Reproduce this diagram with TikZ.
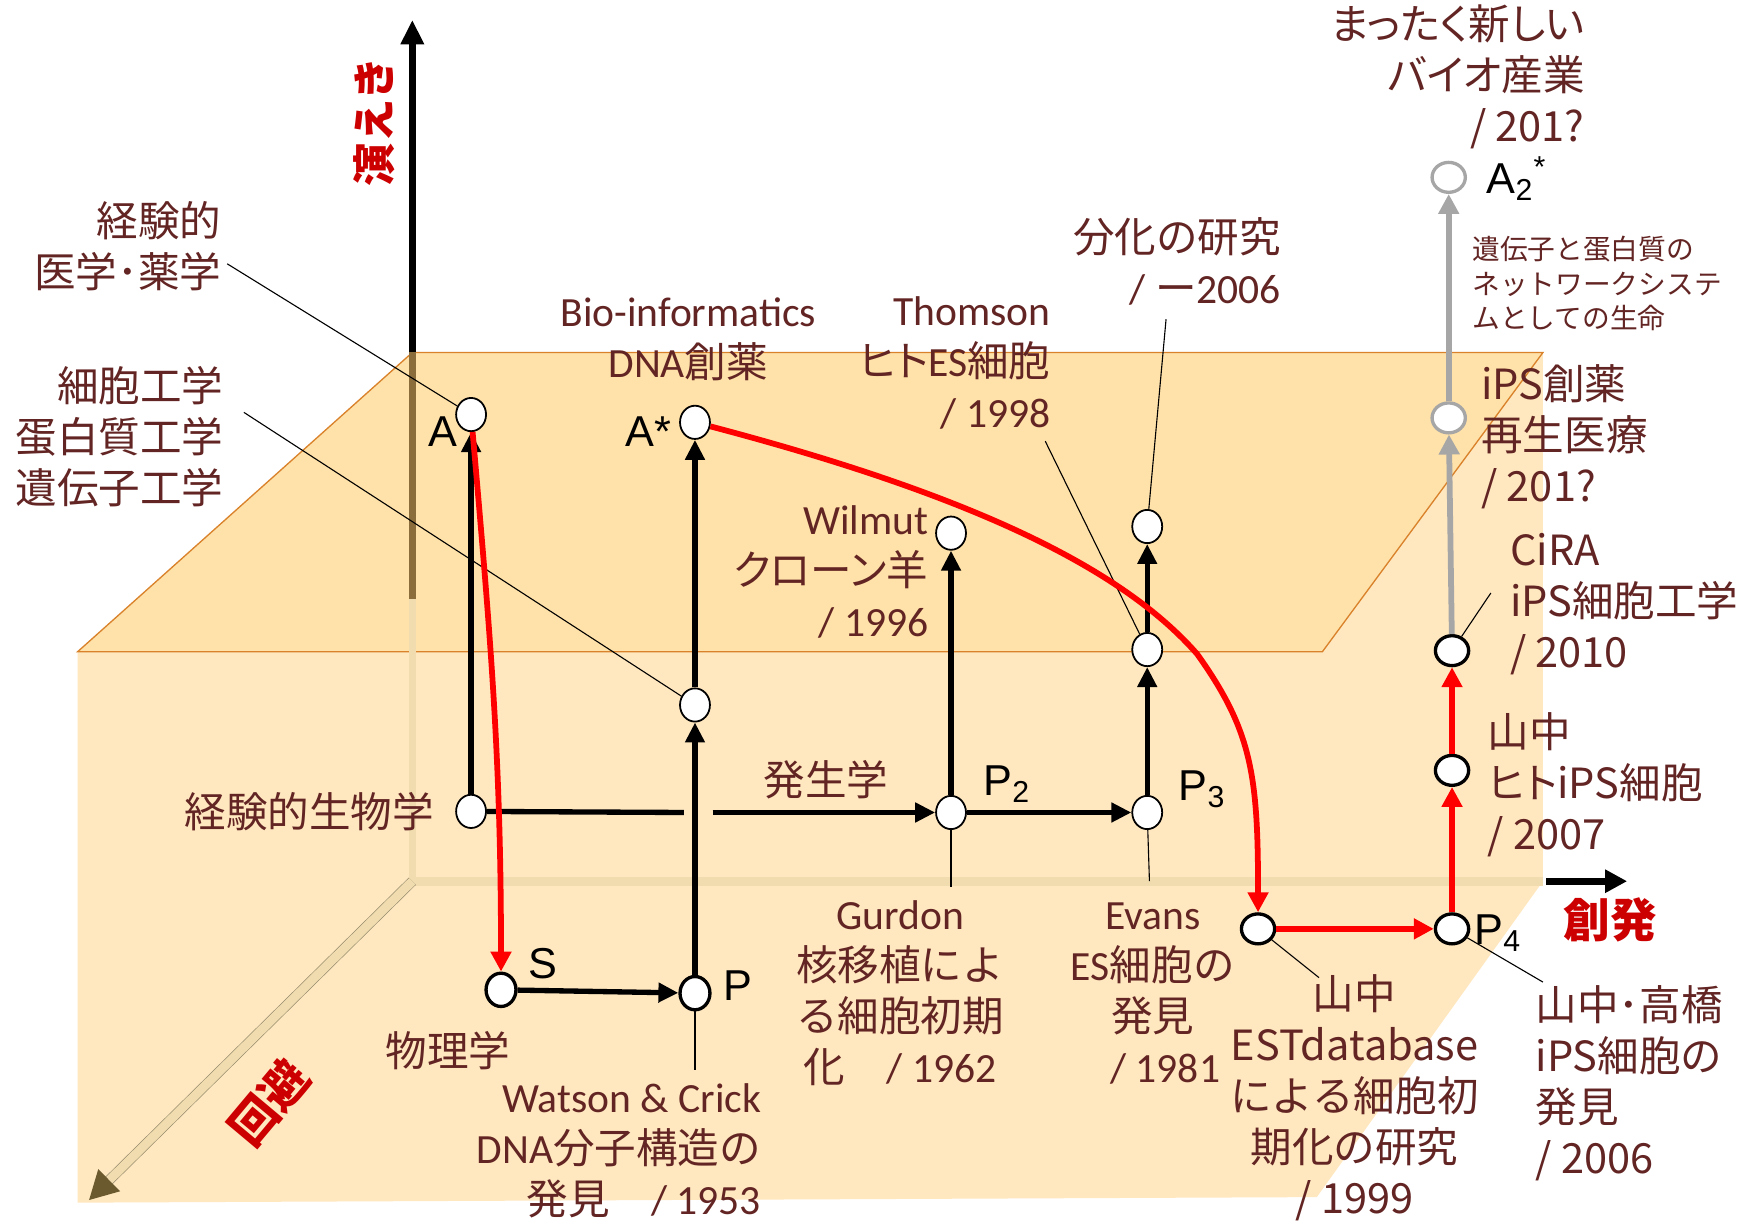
\documentclass[tikz,border=0pt]{standalone}
\usepackage{fontspec}
\setmainfont{Carlito}
\newfontfamily\jp{Noto Sans CJK JP}
\newfontfamily\jpp[RawFeature=+palt]{Noto Sans CJK JP}
\newfontfamily\ar{Liberation Sans}
\newcommand\J[1]{{\jp #1}}
\newcommand\JP[1]{{\jpp #1}}
\usetikzlibrary{arrows.meta,shapes.geometric,calc}
\definecolor{tcol}{HTML}{632523}
\definecolor{rtxt}{HTML}{CC0000}
\definecolor{ared}{HTML}{FF0000}
\definecolor{planec}{HTML}{FFE2A9}
\definecolor{lightc}{HTML}{FFE8C0}
\definecolor{edgeo}{HTML}{D9822B}
\definecolor{tanc}{HTML}{F0DCAF}
\definecolor{axbrown}{HTML}{8A6D3B}
\definecolor{axdark}{HTML}{6B5A2E}
\definecolor{grc}{HTML}{A6A6A6}
\begin{document}
\begin{tikzpicture}[x=0.5pt,y=-0.5pt,
 lbl/.style={text=tcol,inner sep=0pt,font=\fontsize{18.75}{23}\selectfont},
 jl/.style={text=tcol,inner sep=0pt,font=\jp\fontsize{18.75}{23}\selectfont},
 jpl/.style={text=tcol,inner sep=0pt,font=\jpp\fontsize{18.75}{23}\selectfont},
 sym/.style={inner sep=0pt,font=\ar\fontsize{19.5}{23}\selectfont},
 redlbl/.style={text=rtxt,inner sep=0pt,font=\jp\bfseries\fontsize{19.5}{23}\selectfont},
 dotA/.style={ellipse,draw=black,fill=white,line width=0.8pt,minimum width=13.5pt,minimum height=15pt,inner sep=0pt},
 dotB/.style={ellipse,draw=black,fill=white,line width=1.5pt,minimum width=15pt,minimum height=13.5pt,inner sep=0pt},
 dotG/.style={ellipse,draw=grc,fill=white,line width=1.5pt,minimum width=15pt,minimum height=13.5pt,inner sep=0pt},
 blk/.style={line width=2.4pt,-{Triangle[length=9pt,width=8.5pt]}},
 redar/.style={ared,line width=2.6pt,-{Triangle[length=9pt,width=9pt]}},
 grar/.style={grc,line width=2.6pt,-{Triangle[length=9pt,width=9pt]}},
 lead/.style={line width=0.5pt}
]
\path[use as bounding box,fill=white] (0,0) rectangle (1568,1105);

% background box
\fill[lightc] (70,588) -- (1193,588) -- (1392,318) -- (1392,795) -- (1188,1080) -- (70,1085) -- cycle;
\filldraw[fill=planec,draw=edgeo,line width=0.6pt] (372,318) -- (1392,318) -- (1193,588) -- (70,588) -- cycle;

% axes
\coordinate (O) at (372,795);
\coordinate (Vtop) at (372,18);
\coordinate (Vpl) at (372,318);
\coordinate (Vlow) at (372,540);
\coordinate (Hend) at (1392,795);
\coordinate (Hs) at (1395,795);
\coordinate (He) at (1468,795);
\coordinate (Z) at (80,1083);
\draw[tanc,line width=3pt] (Vlow) -- (O);
\draw[tanc,line width=4pt] (O) -- (Hend);
\draw[axbrown,line width=3pt] (Vlow) -- (Vpl);
\draw[line width=3pt,-{Triangle[length=11pt,width=10pt]}] (Vpl) -- (Vtop);
\draw[axdark!70,line width=4.6pt] (O) -- ($(Z)!0.06!(O)$);
\draw[tanc,line width=4pt,-{Triangle[length=13pt,width=13pt,fill=axdark,color=axdark]}] (O) -- (Z);
\draw[line width=3pt,-{Triangle[length=10pt,width=10pt]}] (Hs) -- (He);

% nodes
\node[dotA] (A) at (425,374) {};
\node[dotA] (As) at (627,381) {};
\node[dotA] (Bm) at (627,636) {};
\node[dotA] (E) at (425,732) {};
\node[dotA,line width=1.5pt] (S) at (452,893) {};
\node[dotA,line width=1.5pt] (P) at (627,896) {};
\node[dotA] (W) at (858,481) {};
\node[dotA] (P2) at (858,733) {};
\node[dotA] (P3) at (1035,733) {};
\node[dotA] (P3m) at (1035,586) {};
\node[dotA] (P3t) at (1035,475) {};
\node[dotB] (EST) at (1135,838) {};
\node[dotB] (P4) at (1310,838) {};
\node[dotB] (Y1) at (1310,695) {};
\node[dotB] (Ci) at (1310,587) {};
\node[dotG] (iPS) at (1307,377) {};
\node[dotG] (A2) at (1307,160) {};

% leader coordinates
\coordinate (l1) at (205,238);
\coordinate (l2) at (220,372);
\coordinate (l3) at (943,398);
\coordinate (l4) at (1052,288);
\coordinate (l5) at (858,800);
\coordinate (l6) at (1037,795);
\coordinate (l7) at (627,965);
\coordinate (l8) at (1190,882);
\coordinate (l9) at (1392,886);
\coordinate (l10) at (1345,535);
\draw[lead] (l1) -- (A);
\draw[lead] (l2) -- (Bm);
\draw[lead] (l3) -- (P3m);
\draw[lead] (l4) -- (P3t);
\draw[lead] (P2) -- (l5);
\draw[lead] (P3) -- (l6);
\draw[lead] (P) -- (l7);
\draw[lead] (EST) -- (l8);
\draw[lead] (P4) -- (l9);
\draw[lead] (Ci) -- (l10);

% black arrows
\coordinate (g1) at (617,733);
\coordinate (g2) at (643,733);
\draw[blk] (E) -- (A);
\draw[line width=2.4pt] (E) -- (g1);
\draw[blk] (g2) -- (P2);
\draw[blk] (P2) -- (P3);
\draw[blk] (P2) -- (W);
\draw[blk] (P3) -- (P3m);
\draw[blk] (P3m) -- (P3t);
\draw[blk] (S) -- (P);
\draw[blk] (P) -- (Bm);
\draw[blk] (Bm) -- (As);

% red arrows
\coordinate (c1) at (1080,590);
\draw[redar] (A) to[out=-85,in=90] (S);
\draw[redar] (As) .. controls (870,445) and (1010,510) .. (c1) .. controls (1130,660) and (1135,700) .. (EST);
\draw[redar] (EST) -- (P4);
\draw[redar] (P4) -- (Y1);
\draw[redar] (Y1) -- (Ci);

% gray arrows
\draw[grar] (Ci) -- (iPS);
\draw[grar] (iPS) -- (A2);

% axis labels
\node[redlbl,rotate=90] (yan) at (338,110) {演えき};
\node[redlbl,font=\jp\bfseries\fontsize{21}{23}\selectfont] (sou) at (1453,830) {創発};
\node[redlbl,rotate=50,font=\jp\bfseries\fontsize{21}{23}\selectfont] (kai) at (243,995) {回避};

% point labels
\node[sym,anchor=base] (lA) at (400,403) {A};
\node[sym,anchor=base] (lAs) at (585,403) {A*};
\node[sym,anchor=base] (lS) at (490,883) {S};
\node[sym,anchor=base] (lP) at (666,903) {P};
\node[sym,anchor=base west] (lP2) at (887,718) {P\textsubscript{2}};
\node[sym,anchor=base west] (lP3) at (1063,722) {P\textsubscript{3}};
\node[sym,anchor=base west] (lP4) at (1330,852) {P\textsubscript{4}};
\node[sym,anchor=base west] (lA2) at (1341,175) {A\textsubscript{2}\textsuperscript{*}};

% texts
\node[jl,align=right,anchor=east] (t1) at (200,222) {経験的\\医学･薬学};
\node[jl,align=right,anchor=east] (t2) at (202,394) {細胞工学\\蛋白質工学\\遺伝子工学};
\node[jl,anchor=east] (t3) at (392,732) {経験的生物学};
\node[jl] (t4) at (404,948) {物理学};
\node[lbl,align=center] (t5) at (621,306) {Bio-informatics\\DNA\J{創薬}};
\node[lbl,align=right,anchor=east] (t6) at (948,327) {Thomson\\\JP{ヒト}ES\J{細胞}\\/ 1998};
\node[lbl,align=right,anchor=east] (t7) at (1156,236) {\J{分化の研究}\\/ \J{ー}2006};
\node[lbl,align=right,anchor=east] (t8) at (838,516) {Wilmut\\\JP{クローン羊}\\/ 1996};
\node[jl] (t9) at (745,703) {発生学};
\node[lbl,align=center] (t10) at (812,896) {Gurdon\\\J{核移植によ}\\\J{る細胞初期}\\\J{化　}/ 1962};
\node[lbl,align=center] (t11) at (1040,896) {Evans\\ES\J{細胞の}\\\J{発見}\\\hspace{0.6em}/ 1981};
\node[lbl,align=right,anchor=east] (t12) at (687,1038) {Watson \& Crick\\DNA\J{分子構造の}\\\J{発見　}/ 1953};
\node[jl,align=center] (t13) at (1222,990) {山中\\ESTdatabase\\による細胞初\\期化の研究\\/ 1999};
\node[jl,align=left,anchor=west] (t14) at (1385,977) {山中･高橋\\iPS細胞の\\発見\\/ 2006};
\node[jpl,align=left,anchor=west] (t15) at (1342,708) {山中\\ヒトiPS細胞\\/ 2007};
\node[jl,align=left,anchor=west] (t16) at (1362,545) {CiRA\\iPS細胞工学\\/ 2010};
\node[jl,align=left,anchor=west] (t17) at (1336,394) {iPS創薬\\再生医療\\/ 201?};
\node[jl,align=left,anchor=west,font=\jp\fontsize{12.5}{15.5}\selectfont] (t18) at (1328,256) {遺伝子と蛋白質の\\ネットワークシステ\\ムとしての生命};
\node[jpl,align=right,anchor=east] (t19) at (1430,69) {まったく新しい\\バイオ産業\\/ 201?};
\end{tikzpicture}
\end{document}
